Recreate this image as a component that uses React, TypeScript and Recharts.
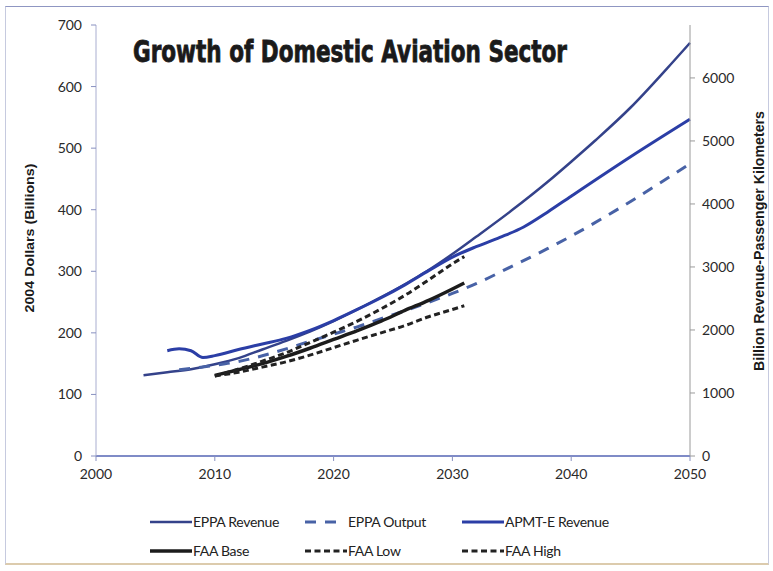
import { LineChart, Line, XAxis, YAxis } from "recharts";

// x axis / tick labels
const yearTicks = [2000, 2010, 2020, 2030, 2040, 2050];
const dollarTicks = [0, 100, 200, 300, 400, 500, 600, 700];
const rpkTicks = [0, 1000, 2000, 3000, 4000, 5000, 6000];

// 2004 dollars (billions), left axis
const eppaRevenueYears = [2004, 2006, 2008, 2010, 2012, 2014, 2016, 2018, 2020, 2022, 2024, 2026, 2028, 2030, 2032, 2035, 2038, 2040, 2042, 2045, 2048, 2050];
const eppaRevenue = [131, 136, 141, 149, 159, 173, 187, 202, 219, 238, 258, 279, 302, 328, 356, 399, 445, 478, 512, 566, 628, 671];

const apmtRevenueYears = [2006, 2007, 2008, 2009, 2010, 2012, 2014, 2016, 2018, 2020, 2022, 2024, 2026, 2028, 2030, 2032, 2034, 2036, 2038, 2040, 2045, 2050];
const apmtRevenue = [171, 174, 171, 160, 163, 173, 182, 191, 204, 220, 238, 257, 278, 301, 323, 340, 355, 372, 396, 422, 486, 547];

// billion revenue-passenger km, right axis
const eppaOutputYears = [2007, 2008, 2010, 2012, 2014, 2016, 2018, 2020, 2022, 2024, 2026, 2028, 2030, 2032, 2035, 2038, 2040, 2045, 2050];
const eppaOutput = [1370, 1390, 1440, 1500, 1590, 1700, 1820, 1935, 2050, 2180, 2305, 2440, 2580, 2735, 3010, 3290, 3490, 4040, 4640];

const faaYears = [2010, 2012, 2014, 2016, 2018, 2020, 2022, 2024, 2026, 2028, 2030, 2031];
const faaBase = [1280, 1370, 1465, 1580, 1710, 1850, 1990, 2140, 2310, 2470, 2650, 2745];
const faaLow = [1270, 1330, 1410, 1495, 1600, 1720, 1840, 1955, 2070, 2210, 2325, 2385];
const faaHigh = [1270, 1380, 1505, 1640, 1800, 1965, 2140, 2335, 2550, 2795, 3050, 3165];

const toPoints = (years: number[], values: number[]) =>
  years.map((year, i) => ({ year, value: values[i] }));

type Series = {
  name: string;
  axis: "left" | "right";
  years: number[];
  values: number[];
  color: string;
  width: number;
  dash?: string;
};

const series: Series[] = [
  { name: "EPPA Revenue", axis: "left", years: eppaRevenueYears, values: eppaRevenue, color: "#34428a", width: 2.5 },
  { name: "EPPA Output", axis: "right", years: eppaOutputYears, values: eppaOutput, color: "#4862a6", width: 3, dash: "11 9" },
  { name: "APMT-E Revenue", axis: "left", years: apmtRevenueYears, values: apmtRevenue, color: "#2b3ea6", width: 3 },
  { name: "FAA Base", axis: "right", years: faaYears, values: faaBase, color: "#1c1c1c", width: 3.5 },
  { name: "FAA Low", axis: "right", years: faaYears, values: faaLow, color: "#222222", width: 3, dash: "6 3.5" },
  { name: "FAA High", axis: "right", years: faaYears, values: faaHigh, color: "#222222", width: 3, dash: "6 3.5" },
];

const tickFont = { fontFamily: "Lato, 'Open Sans', sans-serif", fontSize: 14, fill: "#2a2a2a" };

const legendCols = [150, 305, 462];
const legendRows = [522, 551];

function Legend() {
  return (
    <g>
      {series.map((s, i) => {
        const x = legendCols[i % 3];
        const y = legendRows[Math.floor(i / 3)];
        const iconLen = s.dash && s.dash.startsWith("11") ? 33 : 42;
        const textX = i % 3 === 1 ? 348 : x + 43;
        return (
          <g key={s.name}>
            <line
              x1={x}
              x2={x + iconLen}
              y1={y}
              y2={y}
              stroke={s.color}
              strokeWidth={s.width}
              strokeDasharray={s.dash}
            />
            <text
              x={textX}
              y={y + 5}
              fontFamily="Lato, 'Open Sans', sans-serif"
              fontSize={14}
              fill="#222"
              letterSpacing={-0.3}
            >
              {s.name}
            </text>
          </g>
        );
      })}
    </g>
  );
}

export default function App() {
  return (
    <div style={{ position: "relative", width: 773, height: 571, background: "#fff" }}>
      <style>{`body{margin:0}`}</style>
      <div
        style={{
          position: "absolute",
          left: 5,
          top: 6,
          width: 762,
          height: 556,
          borderTop: "1.5px solid #8f96c2",
          borderLeft: "1px solid #c6cadf",
          borderRight: "1px solid #c6cadf",
          borderBottom: "2px solid #dccbad",
        }}
      />
      <LineChart
        width={773}
        height={571}
        margin={{ top: 25, right: 0, bottom: 85, left: 0 }}
      >
        <XAxis
          type="number"
          dataKey="year"
          domain={[2000, 2050]}
          ticks={yearTicks}
          height={30}
          axisLine={{ stroke: "#5565b5", strokeWidth: 1.5 }}
          tickLine={{ stroke: "#8890c0" }}
          tickSize={5}
          tickMargin={8}
          tick={tickFont}
        />
        <YAxis
          yAxisId="left"
          width={96}
          domain={[0, 700]}
          ticks={dollarTicks}
          axisLine={{ stroke: "#a9aed0" }}
          tickLine={{ stroke: "#8890c0" }}
          tickSize={5}
          tickMargin={9}
          tick={tickFont}
        />
        <YAxis
          yAxisId="right"
          orientation="right"
          width={83}
          domain={[0, 6840]}
          ticks={rpkTicks}
          axisLine={{ stroke: "#9a9a9a" }}
          tickLine={{ stroke: "#9a9a9a" }}
          tickSize={5}
          tickMargin={7}
          tick={tickFont}
        />
        {series.map((s) => (
          <Line
            key={s.name}
            name={s.name}
            yAxisId={s.axis}
            data={toPoints(s.years, s.values)}
            dataKey="value"
            type="monotone"
            stroke={s.color}
            strokeWidth={s.width}
            strokeDasharray={s.dash}
            dot={false}
            activeDot={false}
            isAnimationActive={false}
          />
        ))}
      </LineChart>
      <svg
        width={773}
        height={571}
        style={{ position: "absolute", left: 0, top: 0, pointerEvents: "none" }}
      >
        <text
          x={133}
          y={62}
          textLength={434}
          lengthAdjust="spacingAndGlyphs"
          fontFamily="'DejaVu Sans Condensed', 'DejaVu Sans', sans-serif"
          fontWeight="bold"
          fontSize={30}
          fill="#1a1a1a"
          stroke="#1a1a1a"
          strokeWidth={0.8}
        >
          Growth of Domestic Aviation Sector
        </text>
        <text
          transform="translate(34 238) rotate(-90)"
          textAnchor="middle"
          textLength={149}
          lengthAdjust="spacingAndGlyphs"
          fontFamily="'Liberation Sans Narrow', 'Liberation Sans', sans-serif"
          fontWeight="bold"
          fontSize={13}
          fill="#1a1a1a"
        >
          2004 Dollars (Billions)
        </text>
        <text
          transform="translate(764 241) rotate(-90)"
          textAnchor="middle"
          textLength={260}
          lengthAdjust="spacingAndGlyphs"
          fontFamily="'Liberation Sans Narrow', 'Liberation Sans', sans-serif"
          fontWeight="bold"
          fontSize={14}
          fill="#1a1a1a"
        >
          Billion Revenue-Passenger Kilometers
        </text>
        <Legend />
      </svg>
    </div>
  );
}
